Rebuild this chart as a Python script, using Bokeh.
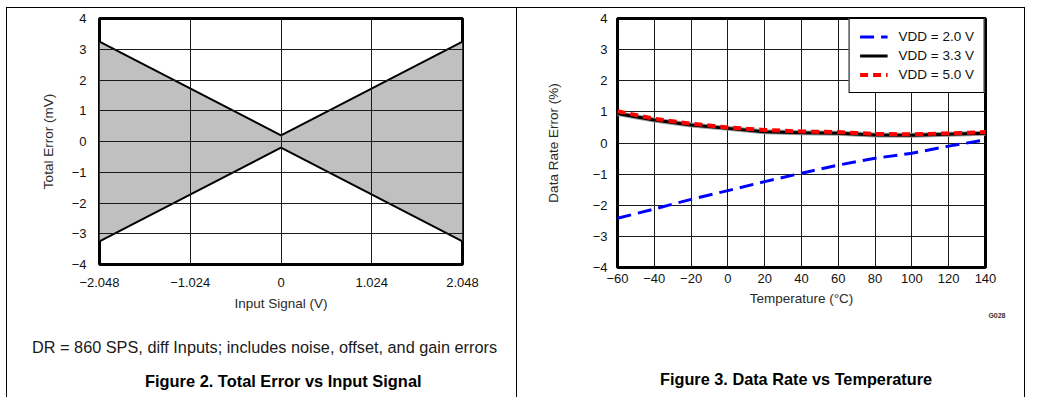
from bokeh.plotting import figure
from bokeh.layouts import row, column
from bokeh.models import (FixedTicker, CustomJSTickFormatter, Title, Div,
                          Legend, LegendItem)
from bokeh.embed import file_html
from bokeh.resources import INLINE

# ---------------- data ----------------
# Figure 2: Total Error vs Input Signal
signal_v = [-2.048, 0.0, 2.048]
err_upper_mv = [3.25, 0.2, 3.25]
err_lower_mv = [-3.25, -0.2, -3.25]
signal_ticks = [-2.048, -1.024, 0.0, 1.024, 2.048]
err_ticks = [-4, -3, -2, -1, 0, 1, 2, 3, 4]

# Figure 3: Data Rate vs Temperature
temp_c = [-60, -40, -20, 0, 20, 40, 60, 80, 100, 120, 140]
rate_vdd20 = [-2.42, -2.12, -1.81, -1.53, -1.24, -0.97, -0.71, -0.49, -0.33, -0.10, 0.10]
rate_vdd33 = [0.95, 0.74, 0.58, 0.47, 0.36, 0.33, 0.31, 0.26, 0.25, 0.28, 0.31]
rate_vdd50 = [1.02, 0.78, 0.62, 0.50, 0.42, 0.37, 0.35, 0.29, 0.28, 0.31, 0.35]
temp_ticks = [-60, -40, -20, 0, 20, 40, 60, 80, 100, 120, 140]
rate_ticks = [-4, -3, -2, -1, 0, 1, 2, 3, 4]
series_names = ["VDD = 2.0 V", "VDD = 3.3 V", "VDD = 5.0 V"]

cond_text = "DR = 860 SPS, diff Inputs; includes noise, offset, and gain errors"
fig2_title = "Figure 2. Total Error vs Input Signal"
fig3_title = "Figure 3. Data Rate vs Temperature"
graph_id = "G028"

FONT = "Liberation Sans"
minus_fmt = "return (tick < 0 ? '\\u2212' : '') + Math.abs(tick).toString();"


def style(p, xt, yt, xtick_stand, xl_stand, ytick_stand, yl_stand):
    p.outline_line_color = "black"
    p.outline_line_width = 3
    p.outline_line_alpha = 1
    p.background_fill_color = "white"
    p.border_fill_alpha = 0
    for ax in (p.xaxis[0], p.yaxis[0]):
        ax.axis_line_color = None
        ax.major_tick_line_color = None
        ax.minor_tick_line_color = None
        ax.major_tick_out = 0
        ax.major_tick_in = 0
        ax.major_label_text_font = FONT
        ax.major_label_text_font_size = "13px"
        ax.major_label_text_color = "#111111"
        ax.axis_label_text_font = FONT
        ax.axis_label_text_font_size = "13.5px"
        ax.axis_label_text_font_style = "normal"
        ax.axis_label_text_color = "#2a2a2a"
        ax.formatter = CustomJSTickFormatter(code=minus_fmt)
    p.xaxis[0].ticker = FixedTicker(ticks=xt)
    p.yaxis[0].ticker = FixedTicker(ticks=yt)
    p.xaxis[0].major_label_standoff = xtick_stand
    p.xaxis[0].axis_label_standoff = xl_stand
    p.yaxis[0].major_label_standoff = ytick_stand
    p.yaxis[0].axis_label_standoff = yl_stand
    for g in (p.xgrid[0], p.ygrid[0]):
        g.grid_line_color = "#1a1a1a"
        g.grid_line_width = 1
        g.grid_line_alpha = 1
    p.xgrid[0].ticker = FixedTicker(ticks=xt)
    p.ygrid[0].ticker = FixedTicker(ticks=yt)


def line_html(text, top, left, size, bold, color="black"):
    weight = "bold" if bold else "normal"
    return (f'<div style="margin:0; padding:0; padding-top:{top}px; padding-left:{left}px; '
            f'line-height:20px; white-space:nowrap; font-family:\'{FONT}\'; '
            f'font-size:{size}; font-weight:{weight}; color:{color};">{text}</div>')


# ---------------- left figure ----------------
p1 = figure(frame_width=363, frame_height=246, x_range=(-2.048, 2.048), y_range=(-4, 4),
            output_backend="svg", toolbar_location=None,
            min_border_left=99, min_border_right=56, min_border_top=18, min_border_bottom=56,
            x_axis_label="Input Signal (V)", y_axis_label="Total Error (mV)")
style(p1, signal_ticks, err_ticks, 13, 6, 13, 13)
p1.xgrid[0].level = "annotation"
p1.ygrid[0].level = "annotation"
p1.varea(x=signal_v, y1=err_lower_mv, y2=err_upper_mv, fill_color="#c0c0c0")
p1.line(signal_v, err_upper_mv, line_color="black", line_width=2)
p1.line(signal_v, err_lower_mv, line_color="black", line_width=2)

# ---------------- right figure ----------------
p2 = figure(frame_width=368, frame_height=249, x_range=(-60, 140), y_range=(-4, 4),
            output_backend="svg", toolbar_location=None,
            min_border_left=99, min_border_right=54, min_border_top=17, min_border_bottom=0,
            x_axis_label="Temperature (°C)", y_axis_label="Data Rate Error (%)")
style(p2, temp_ticks, rate_ticks, 6, 5, 10, 29)

r20 = p2.line(temp_c, rate_vdd20, line_color="#0000ff", line_width=3, line_dash="14 7")
p2.line(temp_c, rate_vdd33, line_color="#9a9a9a", line_width=5)
r33 = p2.line(temp_c, rate_vdd33, line_color="black", line_width=3)
r50 = p2.line(temp_c, rate_vdd50, line_color="#ff0000", line_width=4, line_dash="8 5")

legend = Legend(items=[LegendItem(label=series_names[0], renderers=[r20]),
                       LegendItem(label=series_names[1], renderers=[r33]),
                       LegendItem(label=series_names[2], renderers=[r50])],
                location="top_right", margin=0, padding=10, spacing=4,
                label_height=13, glyph_height=13, glyph_width=28, label_standoff=11,
                label_text_font=FONT, label_text_font_size="13.5px",
                label_text_color="#111111",
                border_line_color="black", border_line_width=1, border_line_alpha=1,
                background_fill_color="white", background_fill_alpha=1)
p2.add_layout(legend)

p2.add_layout(Title(text=graph_id, align="right", standoff=2, offset=-20,
                    text_font=FONT, text_font_size="7px", text_font_style="bold",
                    text_color="#333333"), "below")

# ---------------- captions ----------------
d1 = Div(text=line_html(cond_text, 17, 32, "16.3px", False, "#1a1a1a")
         + line_html(fig2_title, 14, 145, "16.4px", True),
         width=518, height=77, margin=0)
d2 = Div(text=line_html(fig3_title, 49, 142, "16.3px", True),
         width=521, height=77, margin=0)

page_bg = {"background": ", ".join([
    "linear-gradient(#000,#000) 6px 7px / 1px 100% no-repeat",
    "linear-gradient(#000,#000) 516px 7px / 1px 100% no-repeat",
    "linear-gradient(#000,#000) 1024px 7px / 1px 100% no-repeat",
    "linear-gradient(#000,#000) 6px 7px / 1019px 1px no-repeat",
])}

layout = column(row(p1, p2, spacing=0), row(d1, d2, spacing=0), spacing=0, styles=page_bg)
open("out.html", "w").write(file_html(layout, INLINE))
